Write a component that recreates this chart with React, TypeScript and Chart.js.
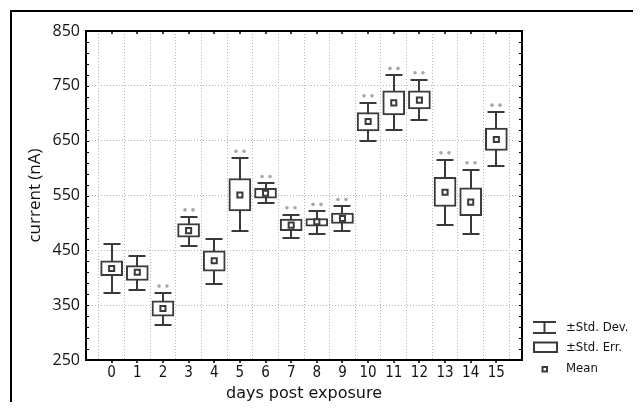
import React, { useEffect, useRef } from "react";
import { Chart, registerables } from "chart.js";

Chart.register(...registerables);

// ---- data ----
const days = [0, 1, 2, 3, 4, 5, 6, 7, 8, 9, 10, 11, 12, 13, 14, 15];
const sdHigh = [462, 440, 372, 511, 471, 618, 572, 515, 521, 530, 719, 769, 761, 615, 597, 702];
const seHigh = [431, 422, 358, 499, 449, 581, 563, 507, 508, 518, 701, 741, 741, 583, 564, 673];
const means = [417, 410, 344, 486, 431, 551, 554, 496, 502, 508, 685, 719, 724, 556, 538, 652];
const seLow = [404, 395, 330, 474, 412, 522, 545, 486, 494, 499, 668, 697, 708, 530, 513, 632];
const sdLow = [373, 378, 313, 457, 389, 486, 537, 473, 479, 486, 650, 669, 688, 497, 480, 604];
const significant = [false, false, true, true, false, true, true, true, true, true, true, true, true, true, true, true];
const yTicks = { min: 250, max: 850, step: 100, minorStep: 20 };
const legendLabels = ["\u00B1Std. Dev.", "\u00B1Std. Err.", "Mean"];

const BOX_COLOR = "#3a3a3a";
const GRID_COLOR = "#b4b4b4";
const NARROW = "'DejaVu Sans Condensed', 'DejaVu Sans', sans-serif";

export default function App() {
  const ref = useRef<HTMLCanvasElement>(null);

  useEffect(() => {
    if (!ref.current) return;

    const boxPlugin = {
      id: "boxWhiskers",
      beforeDatasetsDraw(chart: any) {
        const { ctx, scales } = chart;
        const x = scales.x, y = scales.y;
        ctx.save();
        ctx.strokeStyle = BOX_COLOR;
        ctx.lineWidth = 2;
        days.forEach((d, i) => {
          const px = Math.round(x.getPixelForValue(d));
          const top = Math.round(y.getPixelForValue(sdHigh[i]));
          const bot = Math.round(y.getPixelForValue(sdLow[i]));
          ctx.beginPath();
          ctx.moveTo(px, top);
          ctx.lineTo(px, bot);
          ctx.moveTo(px - 8.5, top);
          ctx.lineTo(px + 8.5, top);
          ctx.moveTo(px - 8.5, bot);
          ctx.lineTo(px + 8.5, bot);
          ctx.stroke();
        });
        ctx.restore();
      },
      afterDatasetsDraw(chart: any) {
        const { ctx, scales, chartArea } = chart;
        const x = scales.x, y = scales.y;
        ctx.save();
        // significance marks
        ctx.fillStyle = "#a8a8a8";
        days.forEach((d, i) => {
          if (!significant[i]) return;
          const px = Math.round(x.getPixelForValue(d));
          const top = y.getPixelForValue(sdHigh[i]);
          [-4, 4].forEach((dx) => {
            ctx.beginPath();
            ctx.arc(px + dx, top - 7, 1.8, 0, Math.PI * 2);
            ctx.fill();
          });
        });
        // plot frame
        ctx.strokeStyle = "#000";
        ctx.lineWidth = 2;
        const { left, right, top, bottom } = chartArea;
        ctx.strokeRect(left, top, right - left, bottom - top);
        // minor ticks left/right (inward)
        ctx.lineWidth = 1;
        ctx.beginPath();
        for (let v = yTicks.min; v <= yTicks.max; v += yTicks.minorStep) {
          const py = Math.round(y.getPixelForValue(v)) + 0.5;
          ctx.moveTo(left, py);
          ctx.lineTo(left + 3, py);
          ctx.moveTo(right - 3, py);
          ctx.lineTo(right, py);
        }
        ctx.stroke();
        // category ticks top (inward) and bottom (outward)
        ctx.lineWidth = 1.5;
        ctx.beginPath();
        days.forEach((d) => {
          const px = Math.round(x.getPixelForValue(d));
          ctx.moveTo(px, top);
          ctx.lineTo(px, top + 3);
          ctx.moveTo(px, bottom);
          ctx.lineTo(px, bottom + 3);
        });
        ctx.stroke();
        ctx.restore();
      },
      afterDraw(chart: any) {
        const { ctx, width, height } = chart;
        ctx.save();
        ctx.strokeStyle = "#000";
        ctx.lineWidth = 2;
        ctx.beginPath();
        ctx.moveTo(3, height + 5);
        ctx.lineTo(3, 3);
        ctx.lineTo(width + 5, 3);
        ctx.stroke();
        ctx.restore();
      },
    };

    const chart = new Chart(ref.current, {
      type: "bar",
      data: {
        datasets: [
          {
            type: "scatter" as any,
            label: "Mean",
            data: days.map((d, i) => ({ x: d, y: means[i] })),
            pointStyle: "rect",
            pointRadius: 3.6,
            pointBorderWidth: 2,
            borderColor: BOX_COLOR,
            backgroundColor: "#fff",
            order: 0,
          } as any,
          {
            type: "bar",
            label: "Std. Err.",
            data: days.map((d, i) => ({ x: d, y: [seLow[i], seHigh[i]] })) as any,
            backgroundColor: "#fff",
            borderColor: BOX_COLOR,
            borderWidth: 2,
            borderSkipped: false,
            barThickness: 22,
            order: 1,
          } as any,
        ],
      },
      options: {
        animation: false,
        responsive: true,
        maintainAspectRatio: false,
        layout: { padding: { top: 23, right: 111, left: 0, bottom: 0 } },
        plugins: { legend: { display: false }, tooltip: { enabled: false } },
        scales: {
          x: {
            type: "linear",
            min: -1,
            max: 16,
            offset: false,
            afterFit: (s: any) => {
              s.height = 42;
            },
            ticks: {
              stepSize: 1,
              autoSkip: false,
              maxRotation: 0,
              padding: 4,
              color: "#111",
              font: { family: NARROW, size: 15 },
              callback: (v: any) => (v < 0 || v > 15 ? "" : String(v)),
            },
            grid: { color: GRID_COLOR, lineWidth: 1, drawTicks: false },
            border: { display: false, dash: [1, 2] },
            title: {
              display: true,
              text: "days post exposure",
              color: "#111",
              font: { family: "'DejaVu Sans', sans-serif", size: 16, lineHeight: 1 },
              padding: 0,
            },
          },
          y: {
            type: "linear",
            min: yTicks.min,
            max: yTicks.max,
            afterFit: (s: any) => {
              s.width = 78;
            },
            ticks: {
              stepSize: yTicks.step,
              padding: 6,
              color: "#111",
              font: { family: "'Open Sans', sans-serif", size: 16 },
            },
            grid: { color: GRID_COLOR, lineWidth: 1, drawTicks: false },
            border: { display: false, dash: [1, 2] },
            title: {
              display: true,
              text: "current (nA)",
              color: "#111",
              font: { family: "'Open Sans', sans-serif", size: 17, lineHeight: 1.2 },
              padding: { top: 17, bottom: 0 },
            },
          },
        },
      },
      plugins: [boxPlugin],
    });
    return () => chart.destroy();
  }, []);

  const legendText: React.CSSProperties = {
    position: "absolute",
    left: 558,
    fontFamily: NARROW,
    fontSize: 13,
    lineHeight: "16px",
    color: "#111",
    whiteSpace: "nowrap",
  };

  return (
    <div style={{ position: "relative", width: 625, height: 394 }}>
      <canvas ref={ref} />
      <svg
        style={{ position: "absolute", left: 520, top: 305 }}
        width={36}
        height={64}
      >
        <g stroke={BOX_COLOR} strokeWidth={2} fill="none">
          <line x1={5} y1={9} x2={28} y2={9} />
          <line x1={5} y1={20} x2={28} y2={20} />
          <line x1={16.5} y1={9} x2={16.5} y2={20} />
          <rect x={6} y={29.5} width={23} height={9.5} fill="#fff" />
          <rect x={14.5} y={54} width={4.5} height={4.5} fill="#fff" />
        </g>
      </svg>
      <div style={{ ...legendText, top: 311 }}>{legendLabels[0]}</div>
      <div style={{ ...legendText, top: 331 }}>{legendLabels[1]}</div>
      <div style={{ ...legendText, top: 352 }}>{legendLabels[2]}</div>
    </div>
  );
}
